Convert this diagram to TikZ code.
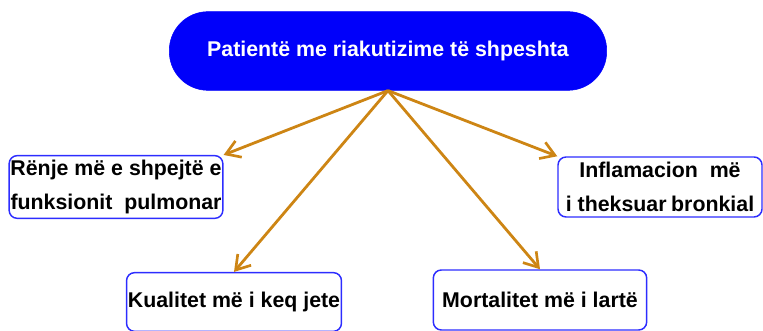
\documentclass[tikz,border=0pt]{standalone}
\usepackage{fontspec}
\setmainfont{Liberation Sans}
\usepackage{tikz}
\usetikzlibrary{arrows.meta,positioning}
\definecolor{headblue}{RGB}{0,0,250}
\definecolor{edgeblue}{RGB}{45,45,255}
\definecolor{arrowgold}{RGB}{205,133,20}

\begin{document}
\begin{tikzpicture}[
        x=0.75pt, y=0.75pt,
        headbox/.style={fill=headblue, draw=headblue, rounded corners=29pt, align=center, minimum width=328pt, minimum height=59pt, text=white, font=\fontsize{16}{25}\selectfont\bfseries},
        effectbox/.style={draw=edgeblue, line width=1.1pt, rounded corners=6pt, align=center, inner sep=1pt, fill=white, font=\fontsize{16}{25}\selectfont\bfseries},
        arr/.style={-{Straight Barb[length=3.6mm, width=4.6mm, line width=2pt]}, line width=2.1pt, arrowgold}
    ]
    \useasboundingbox (0,0) rectangle (763,331);

    \node[headbox] (patients) at (388,280) {Patientë me riakutizime të shpeshta};

    \node[effectbox, minimum width=159pt, minimum height=47pt] (decline) at (116,144) {Rënje më e shpejtë e\\funksionit\ \ pulmonar};
    \node[effectbox, minimum width=153pt, minimum height=45pt] (inflam) at (660,144) {Inflamacion\ \ më\\i theksuar\hspace{-1pt} bronkial};
    \node[effectbox, minimum width=160pt, minimum height=44pt] (quality) at (234,29) {Kualitet më i keq jete};
    \node[effectbox, minimum width=160pt, minimum height=45pt] (mortality) at (540,31) {Mortalitet më i lartë};

    \draw[arr] (patients.south) -- (decline.north east);
    \draw[arr] (patients.south) -- (inflam.north west);
    \draw[arr] (patients.south) -- (quality.north);
    \draw[arr] (patients.south) -- (mortality.north);
    \end{tikzpicture}
\end{document}
